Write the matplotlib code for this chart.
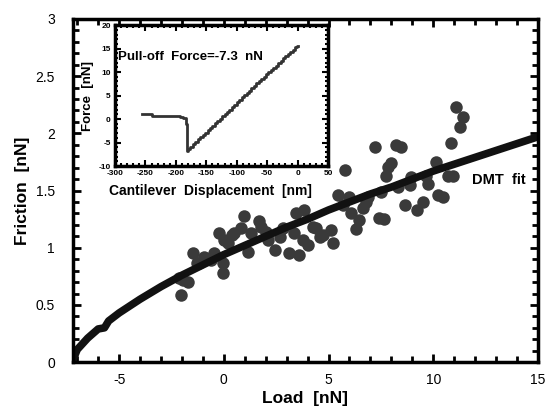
import matplotlib
matplotlib.use("Agg")
import matplotlib.pyplot as plt
from matplotlib.ticker import MultipleLocator

plt.rcParams['font.family'] = ['Liberation Sans', 'DejaVu Sans']
plt.rcParams['axes.unicode_minus'] = False

load = [11.11, 11.40, 11.27, 10.87, 10.11, 10.71, 10.95, 9.67, 9.75, 10.23,
        10.47, 9.51, 9.22, 8.64, 8.88, 8.96, 8.32, 8.24, 8.44, 7.20,
        8.00, 7.84, 7.73, 7.52, 6.88, 6.80, 6.64, 7.41, 7.63, 6.48,
        6.33, 6.09, 6.00, 5.81, 5.44, 5.68, 5.13, 5.21, 4.73, 4.57,
        4.25, 4.41, 3.85, 3.45, 3.37, 3.77, 4.01, 3.13, 3.61, 2.81,
        2.66, 2.46, 2.02, 2.10, 1.70, 1.78, 0.98, 0.82, 0.50, 1.30,
        1.14, 0.02, 0.18, -0.22, -0.45, -0.61, -0.06, -0.06, -0.93, -1.17,
        -1.49, -1.73, -1.97, -2.05, -2.13, -1.27, 0.41]
friction = [2.226, 2.144, 2.052, 1.912, 1.751, 1.626, 1.626, 1.626, 1.556, 1.460,
            1.445, 1.401, 1.329, 1.372, 1.547, 1.620, 1.527, 1.897, 1.877, 1.882,
            1.742, 1.707, 1.626, 1.489, 1.445, 1.401, 1.344, 1.256, 1.247, 1.241,
            1.160, 1.300, 1.440, 1.678, 1.460, 1.372, 1.154, 1.038, 1.110, 1.095,
            1.183, 1.169, 1.329, 1.300, 1.130, 1.066, 1.023, 0.950, 0.935, 1.169,
            1.095, 0.979, 1.139, 1.066, 1.235, 1.183, 1.276, 1.169, 1.125, 1.125,
            0.964, 1.066, 1.038, 1.125, 0.950, 0.892, 0.863, 0.781, 0.920, 0.863,
            0.950, 0.702, 0.717, 0.586, 0.732, 0.865, 1.110]

# DMT fit curve
fit_load = [-7.2, -7.0, -6.5, -6.0, -5.7, -5.5, -5.0, -4.0, -3.0, -2.0, -1.0, 0.0,
            1.0, 2.0, 3.0, 4.0, 5.0, 6.0, 7.0, 8.0, 9.0, 10.0, 11.0, 12.0,
            13.0, 14.0, 15.0]
fit_friction = [0.02, 0.11, 0.21, 0.29, 0.30, 0.36, 0.43, 0.55, 0.66, 0.76, 0.85, 0.94,
                1.02, 1.10, 1.18, 1.25, 1.33, 1.40, 1.47, 1.53, 1.60, 1.67, 1.73, 1.79,
                1.85, 1.91, 1.97]

# inset: force curve
disp = [-255, -240, -238, -195, -190, -185, -183, -182, -178, -174, -170, -166,
        -162, -158, -154, -150, -146, -142, -138, -134, -130, -126, -122, -118,
        -114, -110, -106, -102, -98, -94, -90, -86, -82, -78, -74, -70,
        -66, -62, -58, -54, -50, -46, -42, -38, -34, -30, -26, -22,
        -18, -14, -10, -6, -2, 0]
force = [1.0, 1.0, 0.6, 0.6, 0.5, 0.3, -1.0, -6.8, -6.4, -5.9, -5.3, -4.9,
         -4.3, -3.9, -3.3, -2.9, -2.4, -1.9, -1.4, -0.9, -0.4, 0.1, 0.6, 1.0,
         1.5, 2.0, 2.5, 3.0, 3.6, 4.1, 4.6, 5.1, 5.5, 6.0, 6.6, 7.0,
         7.6, 8.1, 8.5, 9.0, 9.5, 10.0, 10.4, 10.9, 11.4, 11.9, 12.4, 12.9,
         13.4, 13.8, 14.3, 14.8, 15.3, 15.5]

fig = plt.figure(figsize=(5.45, 4.12), dpi=100)
ax = fig.add_axes([0.134, 0.121, 0.853, 0.833])

ax.plot(load, friction, linestyle="none", marker="o", markersize=9,
        color="#3a3a3a", markeredgewidth=0)
ax.plot(fit_load, fit_friction, color="#111111", linewidth=5.5,
        solid_capstyle="round")

ax.set_xlim(-7.2, 15)
ax.set_ylim(0, 3)
ax.xaxis.set_major_locator(MultipleLocator(5))
ax.xaxis.set_minor_locator(MultipleLocator(1))
ax.yaxis.set_major_locator(MultipleLocator(0.5))
ax.yaxis.set_minor_locator(MultipleLocator(0.1))
ax.set_yticks([0, 0.5, 1, 1.5, 2, 2.5, 3])
ax.set_yticklabels(["0", "0.5", "1", "1.5", "2", "2.5", "3"])
ax.tick_params(which="both", direction="in", top=True, right=True, width=2)
ax.tick_params(which="major", length=6, labelsize=10, pad=8)
ax.tick_params(which="minor", length=4)
ax.tick_params(axis="y", which="major", pad=13)
for s in ax.spines.values():
    s.set_linewidth(2.5)
ax.set_xlabel("Load  [nN]", fontsize=12.5, fontweight="bold", labelpad=3)
ax.set_ylabel("Friction  [nN]", fontsize=12.5, fontweight="bold", labelpad=4)
ax.text(11.85, 1.59, "DMT  fit", fontsize=10.5, fontweight="bold", va="center")

# inset
ins = fig.add_axes([0.211, 0.597, 0.391, 0.342])
ins.plot(disp, force, color="#333333", linewidth=2, drawstyle="steps-mid")
ins.set_xlim(-300, 50)
ins.set_ylim(-10, 20)
ins.xaxis.set_major_locator(MultipleLocator(50))
ins.xaxis.set_minor_locator(MultipleLocator(10))
ins.yaxis.set_major_locator(MultipleLocator(5))
ins.yaxis.set_minor_locator(MultipleLocator(1))
ins.tick_params(which="both", direction="in", top=True, right=True, width=1.5,
                labelsize=6, pad=3)
ins.tick_params(which="major", length=4)
ins.tick_params(which="minor", length=2.5)
for lab in ins.get_xticklabels() + ins.get_yticklabels():
    lab.set_fontweight("bold")
for s in ins.spines.values():
    s.set_linewidth(2.5)
ins.set_xlabel("Cantilever  Displacement  [nm]", fontsize=10, fontweight="bold",
               labelpad=2)
ins.xaxis.set_label_coords(0.45, -0.13)
ins.set_ylabel("Force  [nN]", fontsize=9.5, fontweight="bold", labelpad=3)
ins.text(-295, 13.2, "Pull-off  Force=-7.3  nN", fontsize=9.5, fontweight="bold",
         va="center")

fig.savefig("out.png", dpi=100)
